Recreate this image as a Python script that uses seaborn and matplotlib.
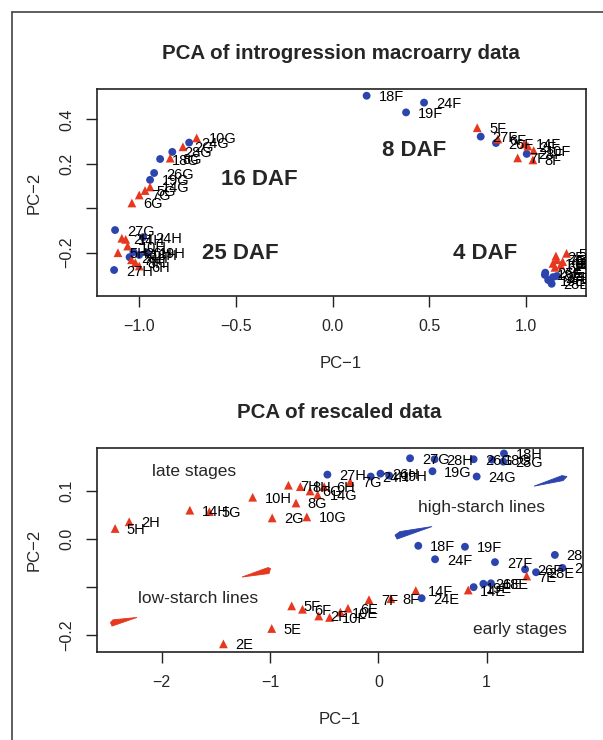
import re
import matplotlib
matplotlib.use("Agg")
import matplotlib.pyplot as plt
from matplotlib.lines import Line2D
import seaborn as sns
import pandas as pd

# ---------------- data ----------------
low_starch_lines = ['2', '5', '6', '7', '8', '10', '14']
high_starch_lines = ['18', '19', '24', '26', '27', '28']

# top panel: PCA of introgression macroarray data
top_labels = ['10G', '2G', '24G', '28G', '18G', '8G', '26G', '19G', '14G', '5G', '7G', '6G',
              '27G', '27H', '2H', '14H', '24H', '5H', '10H', '19H', '26H', '28H', '18H', '7H', '8H', '6H',
              '18F', '24F', '19F', '5F', '27F', '6F', '26F', '14F', '2F', '28F', '10F', '7F', '8F',
              '5E', '2E', '7E', '10E', '6E', '8E', '14E', '26E', '18E', '24E', '19E', '27E', '28E']
top_x = [-0.703, -0.774, -0.742, -0.829, -0.892, -0.84, -0.923, -0.944, -0.944, -0.97, -1.0, -1.038,
         -1.125, -1.13, -1.09, -1.07, -0.98, -1.11, -1.06, -0.96, -1.03, -1.05, -1.0, -1.04, -1.02, -1.0,
         0.176, 0.473, 0.38, 0.748, 0.766, 0.855, 0.845, 0.99, 1.01, 1.004, 1.04, 0.957, 1.036,
         1.21, 1.155, 1.16, 1.14, 1.15, 1.19, 1.18, 1.10, 1.098, 1.16, 1.115, 1.14, 1.133]
top_y = [0.317, 0.277, 0.296, 0.254, 0.222, 0.226, 0.159, 0.128, 0.096, 0.08, 0.06, 0.024,
         -0.098, -0.278, -0.135, -0.14, -0.13, -0.2, -0.17, -0.2, -0.197, -0.22, -0.21, -0.232, -0.245, -0.26,
         0.507, 0.476, 0.432, 0.363, 0.323, 0.312, 0.294, 0.29, 0.28, 0.245, 0.26, 0.227, 0.218,
         -0.203, -0.215, -0.232, -0.248, -0.266, -0.24, -0.255, -0.29, -0.30, -0.305, -0.323, -0.31, -0.34]
top_stage_text = ['16 DAF', '25 DAF', '8 DAF', '4 DAF']
top_stage_x = [-0.38, -0.478, 0.423, 0.788]
top_stage_y = [0.128, -0.205, 0.26, -0.205]

# bottom panel: PCA of rescaled data
bot_labels = ['5H', '2H', '14H', '5G', '10H', '2G', '7H', '8G', '8H', '10G', '6G', '14G', '6H', '7G',
              '27H', '24H', '26H', '19H', '27G', '28H', '19G', '26G', '24G', '28G', '18H', '18G',
              '18F', '19F', '24F', '27F', '28F', '26F', '28E', '27E', '7E', '26E', '18E', '14E', '19E',
              '14F', '24E', '8F', '7F', '10E', '6E', '10F', '2F', '6F', '5F', '5E', '2E']
bot_x = [-2.43, -2.30, -1.74, -1.56, -1.16, -0.98, -0.83, -0.76, -0.72, -0.66, -0.63, -0.56, -0.50, -0.26,
         -0.47, -0.07, 0.02, 0.10, 0.293, 0.52, 0.50, 0.88, 0.908, 1.154, 1.16, 1.05,
         0.369, 0.80, 0.524, 1.077, 1.63, 1.355, 1.456, 1.70, 1.37, 0.97, 1.04, 0.83, 0.88,
         0.346, 0.40, 0.116, -0.086, -0.35, -0.28, -0.45, -0.55, -0.70, -0.80, -0.984, -1.43]
bot_y = [0.022, 0.036, 0.060, 0.057, 0.087, 0.044, 0.112, 0.075, 0.109, 0.046, 0.100, 0.092, 0.109, 0.119,
         0.134, 0.130, 0.136, 0.132, 0.168, 0.166, 0.141, 0.166, 0.130, 0.161, 0.178, 0.165,
         -0.014, -0.016, -0.042, -0.048, -0.033, -0.063, -0.069, -0.060, -0.077, -0.093, -0.092, -0.106, -0.10,
         -0.107, -0.123, -0.124, -0.126, -0.152, -0.144, -0.163, -0.16, -0.146, -0.139, -0.186, -0.218]
bot_note_text = ['late stages', 'high-starch lines', 'low-starch lines', 'early stages']
bot_note_x = [-1.70, 0.955, -1.665, 1.308]
bot_note_y = [0.140, 0.0665, -0.1227, -0.189]

# direction wedges (polygon vertices in data units)
wedge_blue_upper_x = [1.438, 1.696, 1.742, 1.706]
wedge_blue_upper_y = [0.110, 0.132, 0.130, 0.1216]
wedge_blue_lower_x = [0.496, 0.20, 0.154, 0.173]
wedge_blue_lower_y = [0.026, 0.0156, 0.0083, 0.0]
wedge_red_upper_x = [-1.259, -1.019, -0.995, -1.009]
wedge_red_upper_y = [-0.079, -0.0593, -0.0613, -0.0717]
wedge_red_lower_x = [-2.228, -2.45, -2.473, -2.459]
wedge_red_lower_y = [-0.163, -0.168, -0.1736, -0.181]

top_xticks = [-1.0, -0.5, 0.0, 0.5, 1.0]
top_xticklabels = ['\u22121.0', '\u22120.5', '0.0', '0.5', '1.0']
top_yticks = [-0.2, 0.0, 0.2, 0.4]
top_yticklabels = ['\u22120.2', '', '0.2', '0.4']
bot_xticks = [-2, -1, 0, 1]
bot_xticklabels = ['\u22122', '\u22121', '0', '1']
bot_yticks = [-0.2, -0.1, 0.0, 0.1]
bot_yticklabels = ['\u22120.2', '', '0.0', '0.1']

# ---------------- style ----------------
sns.set_theme(style='ticks')
plt.rcParams['font.family'] = ['Liberation Sans', 'DejaVu Sans']
RED = '#e5381f'
BLUE = '#2c44ad'
FRAME = '#222222'


def group_of(lab):
    num = re.match(r'\d+', lab).group(0)
    return 'low' if num in low_starch_lines else 'high'


def make_df(labels, xs, ys):
    return pd.DataFrame({'label': labels, 'x': xs, 'y': ys,
                         'group': [group_of(l) for l in labels]})


W, H = 603, 740
fig = plt.figure(figsize=(W / 100, H / 100), dpi=100)
ax1 = fig.add_axes([96.7 / W, 1 - 296 / H, (585.5 - 96.7) / W, (296 - 89.3) / H])
ax2 = fig.add_axes([96.7 / W, 1 - 652.3 / H, (582.7 - 96.7) / W, (652.3 - 447.7) / H])

palette = {'low': RED, 'high': BLUE}
markers = {'low': '^', 'high': 'o'}
sizes = {'low': 40, 'high': 32}


def draw_points(ax, df):
    for g in ['high', 'low']:
        sub = df[df.group == g]
        sns.scatterplot(data=sub, x='x', y='y', ax=ax, color=palette[g], marker=markers[g],
                        s=sizes[g], edgecolor='none', linewidth=0, legend=False, zorder=3)
    for lab, x, y in zip(df.label, df.x, df.y):
        ax.annotate(lab, (x, y), xytext=(8.5, 0), textcoords='offset points',
                    ha='left', va='center_baseline', fontsize=10.5, color='black',
                    clip_on=True, zorder=4)


def style_axes(ax, xt, xtl, yt, ytl, xlim, ylim):
    ax.set_xlim(*xlim)
    ax.set_ylim(*ylim)
    ax.set_xticks(xt)
    ax.set_xticklabels(xtl, fontsize=11.5)
    ax.set_yticks(yt)
    ax.set_yticklabels(ytl, fontsize=11.5, rotation=90, va='center')
    ax.tick_params(direction='out', length=7.9, width=1.0, color=FRAME, pad=8.5)
    for sp in ax.spines.values():
        sp.set_visible(True)
        sp.set_linewidth(1.2)
        sp.set_color(FRAME)
    ax.set_xlabel('PC\u22121', fontsize=12)
    ax.set_ylabel('PC\u22122', fontsize=12)
    ax.xaxis.label.set_va('center')
    ax.yaxis.label.set_va('center')


# ---- top panel ----
df1 = make_df(top_labels, top_x, top_y)
draw_points(ax1, df1)
for t, x, y in zip(top_stage_text, top_stage_x, top_stage_y):
    ax1.text(x, y, t, ha='center', va='center', fontsize=16, fontweight='bold', zorder=5)
style_axes(ax1, top_xticks, top_xticklabels, top_yticks, top_yticklabels, (-1.22, 1.308), (-0.395, 0.536))
ax1.set_title('PCA of introgression macroarry data', fontsize=14.8, fontweight='bold', pad=21.5)
ax1.xaxis.set_label_coords(0.5, -(364 - 296) / (296 - 89.3))
ax1.yaxis.set_label_coords(-(96.7 - 34) / (585.5 - 96.7), 0.5)

# ---- bottom panel ----
df2 = make_df(bot_labels, bot_x, bot_y)
for wx, wy, c in [(wedge_blue_upper_x, wedge_blue_upper_y, BLUE),
                  (wedge_blue_lower_x, wedge_blue_lower_y, BLUE),
                  (wedge_red_upper_x, wedge_red_upper_y, RED),
                  (wedge_red_lower_x, wedge_red_lower_y, RED)]:
    ax2.fill(wx, wy, color=c, lw=0.6, zorder=2)
draw_points(ax2, df2)
for t, x, y in zip(bot_note_text, bot_note_x, bot_note_y):
    ax2.text(x, y, t, ha='center', va='center', fontsize=12.5, zorder=5)
style_axes(ax2, bot_xticks, bot_xticklabels, bot_yticks, bot_yticklabels, (-2.60, 1.887), (-0.2355, 0.19))
ax2.set_title('PCA of rescaled data', fontsize=14.8, fontweight='bold', pad=21.5)
ax2.xaxis.set_label_coords(0.5, -(720 - 652.3) / (652.3 - 447.7))
ax2.yaxis.set_label_coords(-(96.7 - 34) / (582.7 - 96.7), 0.5)

# outer frame (left and top edges visible)
fig.add_artist(Line2D([11.7 / W, 11.7 / W], [0, 1 - 11.7 / H], transform=fig.transFigure,
                      color='#444444', lw=1.2))
fig.add_artist(Line2D([11.7 / W, 1], [1 - 11.7 / H, 1 - 11.7 / H], transform=fig.transFigure,
                      color='#444444', lw=1.2))

fig.savefig('out.png', dpi=100, facecolor='white')
